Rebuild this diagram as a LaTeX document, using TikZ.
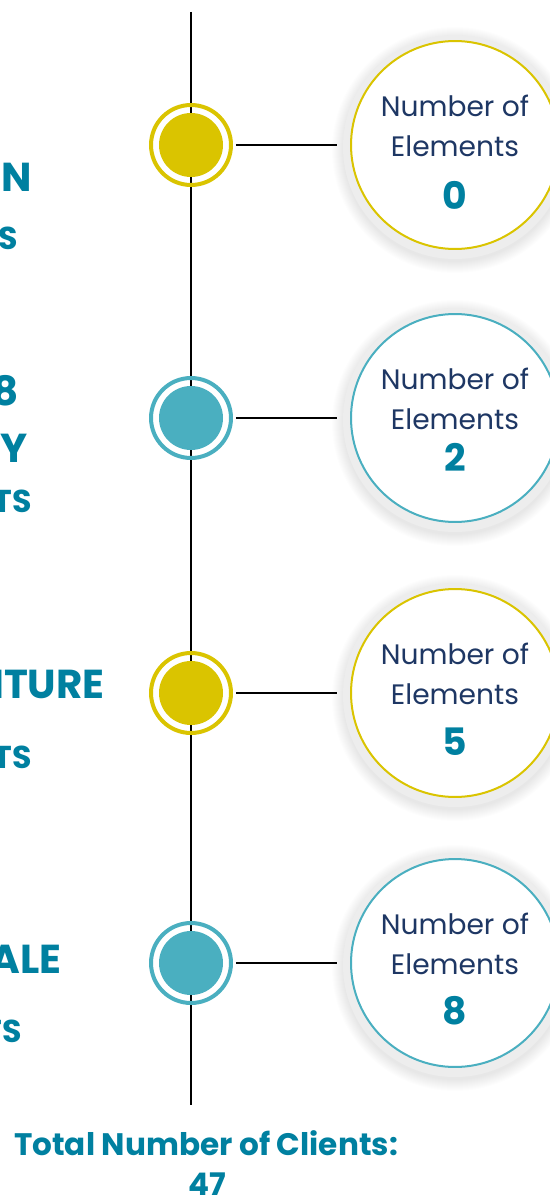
\documentclass[tikz,border=0pt]{standalone}
\usepackage{fontspec}
\setmainfont{Poppins}
\usetikzlibrary{positioning}
\definecolor{gold}{RGB}{218,196,0}
\definecolor{aqua}{RGB}{74,175,192}
\definecolor{petrol}{RGB}{0,128,160}
\definecolor{navy}{RGB}{30,55,100}

\begin{document}
\begin{tikzpicture}[x=0.02cm, y=-0.02cm,
  marker/.style={circle, draw=#1, line width=0.08cm, minimum size=1.6cm, inner sep=0pt},
  bubble/.style={circle, draw=#1, line width=0.04cm, fill=white, minimum size=4.16cm, inner sep=0pt},
  head/.style={anchor=base east, inner sep=0pt, text=petrol, font=\fontsize{23}{23}\selectfont\bfseries},
  sub/.style={anchor=base east, inner sep=0pt, text=petrol, font=\fontsize{18}{18}\selectfont\bfseries},
  caption/.style={text=navy, align=center, inner sep=0pt, font=\fontsize{16}{22.8}\selectfont},
  count/.style={text=petrol, inner sep=0pt, font=\fontsize{21.5}{21.5}\selectfont\bfseries},
  total/.style={text=petrol, inner sep=0pt, font=\fontsize{17.7}{17.7}\selectfont\bfseries}]

\useasboundingbox (0,0) rectangle (550,1196);

% timeline
\coordinate (top) at (191,12);
\coordinate (bot) at (191,1105);
\draw[line width=0.04cm] (top) -- (bot);

\foreach \i/\y/\col/\num/\ny in {1/145/gold/0/195, 2/418/aqua/2/457, 3/693/gold/5/742, 4/963/aqua/8/1011}{
  \node[marker=\col] (m\i) at (191,\y) {};
  \fill[\col] (m\i.center) circle (32);
  % soft shadow behind the bubble
  \foreach \r in {112,113,...,123}
    \fill[black, opacity=0.007] (455,\y+5) circle (\r);
  \fill[black!7] (455,\y+2) circle (112);
  \node[bubble=\col] (c\i) at (455,\y) {};
  \node[caption] (t\i) at (455,\y-19) {Number of\\Elements};
  \node[count] (n\i) at (455,\ny) {\num};
  \draw[line width=0.04cm] ([xshift=0.06cm]m\i.east) -- ([xshift=-0.26cm]c\i.west);
}

% labels cut at the left edge
\node[head] (h1) at (32,192) {N};
\node[sub] (s1) at (18,250) {TS};
\node[head] (h2) at (19,405) {8};
\node[head] (h2b) at (28,462) {Y};
\node[sub] (s2) at (32,512) {TS};
\node[head] (h3) at (105,698) {ITURE};
\node[sub] (s3) at (32,768) {TS};
\node[head] (h4) at (62,973) {ALE};
\node[sub] (s4) at (22,1042) {TS};

\node[total, anchor=base] (tot) at (206,1155) {Total Number of Clients:};
\node[total, anchor=north] (sum) at (207,1172) {47};

\end{tikzpicture}
\end{document}
